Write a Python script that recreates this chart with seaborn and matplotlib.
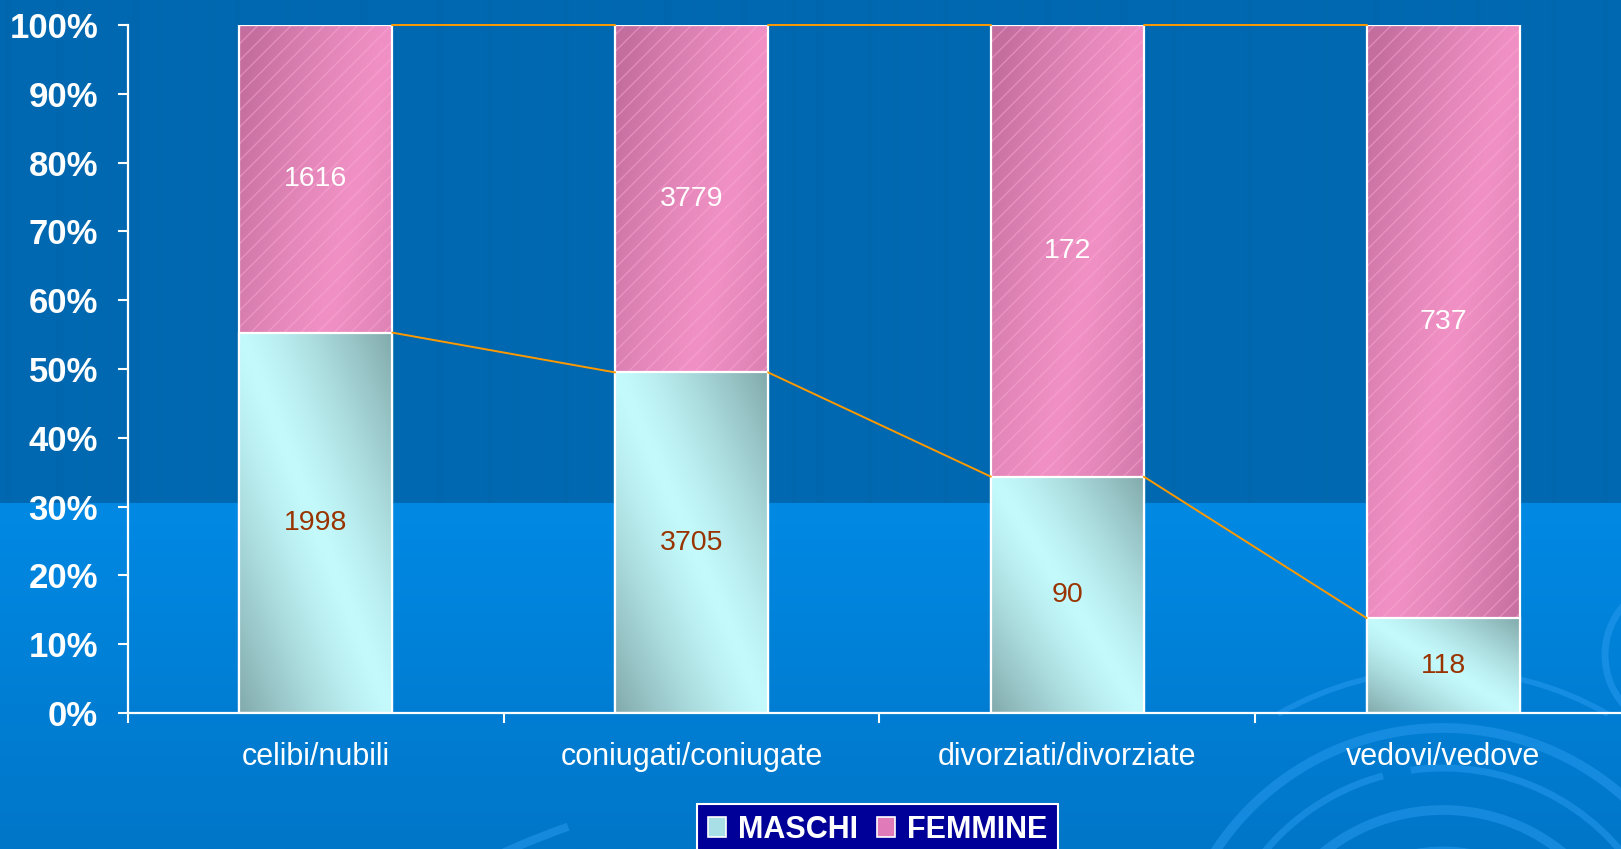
"""Stato civile per sesso - barre in pila al 100%"""
import numpy as np
import pandas as pd
import matplotlib.pyplot as plt
import seaborn as sns
from matplotlib.patches import Arc, Patch, Rectangle
from matplotlib.colors import to_rgb

categorie = ["celibi/nubili", "coniugati/coniugate", "divorziati/divorziate", "vedovi/vedove"]
maschi = [1998, 3705, 90, 118]
femmine = [1616, 3779, 172, 737]
tick_perc = list(range(0, 101, 10))

sns.set_style("ticks")
plt.rcParams["font.family"] = ["Liberation Sans", "DejaVu Sans"]

W, H = 1621, 849
fig = plt.figure(figsize=(W / 100, H / 100), dpi=100)

# --- sfondo (due fasce blu + cerchi decorativi)
bg = fig.add_axes([0, 0, 1, 1], zorder=-5)
bg.set_xlim(0, W)
bg.set_ylim(H, 0)
bg.axis("off")
sfondo = np.zeros((H, 1, 3))
cut = 503
sfondo[:cut, 0, :] = to_rgb("#0068b0")
t = np.linspace(0, 1, H - cut)[:, None]
sfondo[cut:, 0, :] = (1 - t) * np.array(to_rgb("#0089e4")) + t * np.array(to_rgb("#0076c8"))
bg.imshow(sfondo, extent=(0, W, H, 0), aspect="auto", interpolation="bilinear")
anello = "#2a9cf0"
for r, lw, t1, t2 in [(272, 7, 205, 345), (232, 5, 215, 255), (232, 5, 262, 330),
                      (190, 7, 222, 320), (150, 5, 235, 300), (330, 4, 240, 300)]:
    bg.add_patch(Arc((1443, 1000), 2 * r, 2 * r, theta1=t1, theta2=t2,
                     color=anello, lw=lw, alpha=0.5))
bg.add_patch(Arc((1680, 655), 150, 150, theta1=130, theta2=235, color=anello, lw=5, alpha=0.5))
bg.add_patch(Arc((800, 1500), 1424, 1424, theta1=243, theta2=251, color=anello, lw=6, alpha=0.5))

# --- dati percentuali
m = np.array(maschi, dtype=float)
f = np.array(femmine, dtype=float)
masc_pct = 100 * m / (m + f)
df = pd.DataFrame({"cat": categorie, "tot": 100.0, "m": masc_pct})

ax = fig.add_axes([128 / W, (H - 713) / H, 1503 / W, 688 / H])
ax.set_facecolor("none")
bw = 0.407
sns.barplot(data=df, x="cat", y="tot", color="#e080b8", width=bw, saturation=1,
            edgecolor="white", linewidth=1.6, ax=ax)
sns.barplot(data=df, x="cat", y="m", color="#a8e8ee", width=bw, saturation=1,
            edgecolor="white", linewidth=1.6, ax=ax)


def gradiente(light, dark, rows, kind, spread):
    u = np.linspace(0, 1, 60)[None, :]
    v = np.linspace(0, 1, rows)[:, None]
    d = np.abs(u - v) if kind == "tlbr" else np.abs(u + v - 1)
    t = np.clip(d / spread, 0, 1)[..., None] ** 1.3
    return (1 - t) * np.array(to_rgb(light)) + t * np.array(to_rgb(dark))


# femmine (barra intera) con righe diagonali
for bar in ax.containers[0]:
    x0, y0, w, h = bar.get_x(), bar.get_y(), bar.get_width(), bar.get_height()
    bar.set_facecolor("none")
    bar.set_zorder(0.6)
    im = ax.imshow(gradiente("#f090c4", "#c46e9e", 200, "trbl", 0.9),
                   extent=(x0, x0 + w, y0, y0 + h), origin="upper", aspect="auto",
                   interpolation="bilinear", zorder=0.5)
    im.set_clip_path(bar)
    ax.add_patch(Rectangle((x0, y0), w, h, fill=False, lw=0, hatch="//",
                           edgecolor=(1, 0.68, 0.85, 0.45), zorder=0.55))

# maschi
for bar in ax.containers[1]:
    x0, y0, w, h = bar.get_x(), bar.get_y(), bar.get_width(), bar.get_height()
    bar.set_facecolor("none")
    bar.set_zorder(0.8)
    im = ax.imshow(gradiente("#c4fafc", "#82aaac", 200, "tlbr", 1.0),
                   extent=(x0, x0 + w, y0, y0 + h), origin="upper", aspect="auto",
                   interpolation="bilinear", zorder=0.7)
    im.set_clip_path(bar)

# linee di serie
for i in range(len(categorie) - 1):
    ax.plot([i + bw / 2, i + 1 - bw / 2], [masc_pct[i], masc_pct[i + 1]],
            color="#ff9900", lw=1.4, zorder=2)
    ax.plot([i + bw / 2, i + 1 - bw / 2], [100, 100], color="#ff9900", lw=1.4,
            zorder=2, clip_on=False)

# etichette valori
for i in range(len(categorie)):
    ax.text(i, masc_pct[i] / 2, str(maschi[i]), ha="center", va="center",
            color="#993300", fontsize=20.5, zorder=3)
    ax.text(i, masc_pct[i] + (100 - masc_pct[i]) / 2, str(femmine[i]), ha="center",
            va="center", color="white", fontsize=20.5, zorder=3)

ax.set_xlim(-0.5, len(categorie) - 0.5)
ax.set_ylim(0, 100)
ax.set_xlabel("")
ax.set_ylabel("")
ax.set_yticks(tick_perc, labels=[f"{p}%" for p in tick_perc])
ax.set_xticks(range(len(categorie)), labels=categorie)
ax.set_xticks([i - 0.5 for i in range(len(categorie) + 1)], minor=True)
ax.tick_params(axis="y", colors="white", labelsize=25, length=7.5, width=1.5, pad=14)
ax.tick_params(axis="x", which="major", length=0, labelsize=22, labelcolor="white", pad=21)
ax.tick_params(axis="x", which="minor", length=7, width=1.5, color="white")
for lbl in ax.get_yticklabels():
    lbl.set_fontweight("bold")
for s in ["top", "right"]:
    ax.spines[s].set_visible(False)
for s in ["left", "bottom"]:
    ax.spines[s].set_color("white")
    ax.spines[s].set_linewidth(1.6)

handles = [Patch(facecolor="#a8dfe6", edgecolor="white", lw=1.2),
           Patch(facecolor="#e07ab8", edgecolor="white", lw=1.2)]
leg = fig.legend(handles, ["MASCHI", "FEMMINE"], loc="upper left",
                 bbox_to_anchor=(697 / W, 1 - 804 / H), ncol=2, frameon=True,
                 facecolor="#000099", edgecolor="white", framealpha=1, fancybox=False,
                 prop={"weight": "bold", "size": 22}, labelcolor="white",
                 handlelength=0.6, handleheight=0.6, handletextpad=0.4,
                 columnspacing=0.6, borderpad=0.35, borderaxespad=0)
leg.get_frame().set_linewidth(1.5)

fig.savefig("out.png", dpi=100)
